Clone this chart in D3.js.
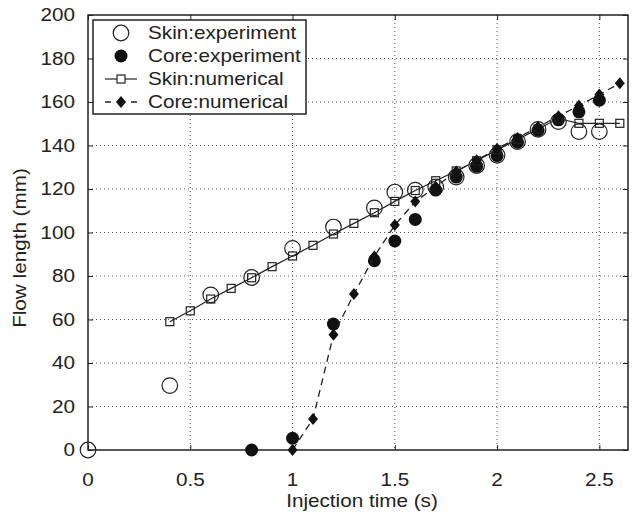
<!DOCTYPE html>
<html><head><meta charset="utf-8">
<script src="https://cdn.jsdelivr.net/npm/d3@7"></script>
<style>body{margin:0;background:#fff;} text{font-family:"Liberation Sans",Arial,Helvetica,sans-serif;fill:#222;}</style>
</head><body>
<svg id="c" width="632" height="515"></svg>
<script>
const xTicks = [0, 0.5, 1, 1.5, 2, 2.5];
const xTickLabels = ["0", "0.5", "1", "1.5", "2", "2.5"];
const yTicks = [0, 20, 40, 60, 80, 100, 120, 140, 160, 180, 200];
const seriesNames = ["Skin:experiment", "Core:experiment", "Skin:numerical", "Core:numerical"];

const skinExpX = [0, 0.4, 0.6, 0.8, 1.0, 1.2, 1.4, 1.5, 1.6, 1.7, 1.8, 1.9, 2.0, 2.1, 2.2, 2.3, 2.4, 2.5];
const skinExpY = [0, 29.6, 71.3, 79.3, 92.7, 102.5, 111.3, 118.6, 119.5, 121, 125.5, 130.8, 135.5, 141.8, 147.4, 151, 146.4, 146.4];

const coreExpX = [0.8, 1.0, 1.2, 1.4, 1.5, 1.6, 1.7, 1.8, 1.9, 2.0, 2.1, 2.2, 2.3, 2.4, 2.5];
const coreExpY = [0, 5.4, 57.9, 87, 96.1, 106, 119.5, 125.5, 130.5, 135.3, 141.5, 147, 151.8, 155.5, 160.8];

const skinNumX = [0.4, 0.5, 0.6, 0.7, 0.8, 0.9, 1.0, 1.1, 1.2, 1.3, 1.4, 1.5, 1.6, 1.7, 1.8, 1.9, 2.0, 2.1, 2.2, 2.3, 2.4, 2.5, 2.6];
const skinNumY = [59, 64, 69.4, 74.3, 79.2, 84.3, 89.2, 94.1, 99.3, 104.2, 109.1, 114.3, 119.3, 123.8, 128.3, 133, 138, 142.8, 147.6, 152.4, 150.2, 150.2, 150.2];

const coreNumX = [1.0, 1.1, 1.2, 1.3, 1.4, 1.5, 1.6, 1.7, 1.8, 1.9, 2.0, 2.1, 2.2, 2.3, 2.4, 2.5, 2.6];
const coreNumY = [0, 14.3, 53, 71.7, 89, 103.4, 114.2, 121, 128, 133.2, 138.5, 143.5, 148.5, 153.5, 158.3, 163.4, 168.6];

const svg = d3.select("#c");
const L = 88, R = 628, T = 15, B = 450;
const SX = 1.15; // horizontal stretch of the reference lettering
const x = d3.scaleLinear().domain([0, 2.64]).range([L, R]);
const y = d3.scaleLinear().domain([0, 200]).range([B, T]);
const zip = (xs, ys) => xs.map((v, i) => [v, ys[i]]);

// grid
const g = svg.append("g");
g.selectAll("line.vg").data(xTicks.filter(d => d > 0)).enter().append("line")
  .attr("x1", d => x(d)).attr("x2", d => x(d)).attr("y1", T).attr("y2", B)
  .attr("stroke", "#555").attr("stroke-width", 1).attr("stroke-dasharray", "1,3");
g.selectAll("line.hg").data(yTicks.filter(d => d > 0 && d < 200)).enter().append("line")
  .attr("x1", L).attr("x2", R).attr("y1", d => y(d)).attr("y2", d => y(d))
  .attr("stroke", "#555").attr("stroke-width", 1).attr("stroke-dasharray", "1,3");

// axes
const xAxB = d3.axisBottom(x).tickValues(xTicks).tickSize(-5).tickFormat("");
const xAxT = d3.axisTop(x).tickValues(xTicks).tickSize(-5).tickFormat("");
const yAxL = d3.axisLeft(y).tickValues(yTicks).tickSize(-5).tickFormat("");
const yAxR = d3.axisRight(y).tickValues(yTicks).tickSize(-5).tickFormat("");
[[xAxB, `translate(0,${B})`], [xAxT, `translate(0,${T})`], [yAxL, `translate(${L},0)`], [yAxR, `translate(${R},0)`]].forEach(([ax, tr]) => {
  const a = svg.append("g").attr("transform", tr).call(ax);
  a.select(".domain").remove();
  a.selectAll("line").attr("stroke", "#222").attr("stroke-width", 1);
});
svg.append("rect").attr("x", L).attr("y", T).attr("width", R - L).attr("height", B - T)
  .attr("fill", "none").attr("stroke", "#222").attr("stroke-width", 1.5);

// tick labels
svg.selectAll("text.xl").data(xTicks).enter().append("text")
  .attr("transform", d => `translate(${x(d)},486) scale(${SX},1)`).attr("text-anchor", "middle").attr("font-size", 18)
  .text((d, i) => xTickLabels[i]);
svg.selectAll("text.yl").data(yTicks).enter().append("text")
  .attr("transform", d => `translate(75,${y(d)}) scale(${SX},1)`).attr("dy", "0.35em").attr("text-anchor", "end").attr("font-size", 18)
  .text(d => d);

svg.append("text").attr("transform", `translate(362,507) scale(${SX},1)`).attr("text-anchor", "middle")
  .attr("font-size", 18).text("Injection time (s)");
svg.append("text").attr("transform", `translate(26,248) rotate(-90) scale(${SX},1)`).attr("text-anchor", "middle")
  .attr("font-size", 18).text("Flow length (mm)");

// data
const line = d3.line().x(d => x(d[0])).y(d => y(d[1]));
const diamond = (cx, cy) => `M${cx},${cy - 6}L${cx + 5},${cy}L${cx},${cy + 6}L${cx - 5},${cy}Z`;

svg.append("g").selectAll("circle").data(zip(skinExpX, skinExpY)).enter().append("circle")
  .attr("cx", d => x(d[0])).attr("cy", d => y(d[1])).attr("r", 7.8)
  .attr("fill", "none").attr("stroke", "#222").attr("stroke-width", 1.2);
svg.append("g").selectAll("circle").data(zip(coreExpX, coreExpY)).enter().append("circle")
  .attr("cx", d => x(d[0])).attr("cy", d => y(d[1])).attr("r", 6.5).attr("fill", "#111");

svg.append("path").datum(zip(skinNumX, skinNumY)).attr("d", line)
  .attr("fill", "none").attr("stroke", "#222").attr("stroke-width", 1.2);
svg.append("g").selectAll("rect").data(zip(skinNumX, skinNumY)).enter().append("rect")
  .attr("x", d => x(d[0]) - 4).attr("y", d => y(d[1]) - 4).attr("width", 8).attr("height", 8)
  .attr("fill", "none").attr("stroke", "#222").attr("stroke-width", 1.2);

svg.append("path").datum(zip(coreNumX, coreNumY)).attr("d", line)
  .attr("fill", "none").attr("stroke", "#222").attr("stroke-width", 1.3).attr("stroke-dasharray", "7,5");
svg.append("g").selectAll("path").data(zip(coreNumX, coreNumY)).enter().append("path")
  .attr("d", d => diamond(x(d[0]), y(d[1]))).attr("fill", "#111");

// legend
const lg = svg.append("g");
lg.append("rect").attr("x", 93).attr("y", 20).attr("width", 213).attr("height", 94)
  .attr("fill", "#fff").attr("stroke", "#222").attr("stroke-width", 1.5);
const rows = [33, 56, 79, 102];
const sx = 121;
lg.append("circle").attr("cx", sx).attr("cy", rows[0]).attr("r", 7.8).attr("fill", "none").attr("stroke", "#222").attr("stroke-width", 1.2);
lg.append("circle").attr("cx", sx).attr("cy", rows[1]).attr("r", 6.5).attr("fill", "#111");
lg.append("line").attr("x1", 105).attr("x2", 137).attr("y1", rows[2]).attr("y2", rows[2]).attr("stroke", "#222").attr("stroke-width", 1.2);
lg.append("rect").attr("x", sx - 4).attr("y", rows[2] - 4).attr("width", 8).attr("height", 8).attr("fill", "#fff").attr("stroke", "#222").attr("stroke-width", 1.2);
lg.append("line").attr("x1", 105).attr("x2", 137).attr("y1", rows[3]).attr("y2", rows[3]).attr("stroke", "#222").attr("stroke-width", 1.3).attr("stroke-dasharray", "6,20");
lg.append("path").attr("d", diamond(sx, rows[3])).attr("fill", "#111");
lg.selectAll("text").data(seriesNames).enter().append("text")
  .attr("transform", (d, i) => `translate(148,${rows[i]}) scale(${SX},1)`).attr("dy", "0.35em").attr("font-size", 18).text(d => d);
</script>
</body></html>
